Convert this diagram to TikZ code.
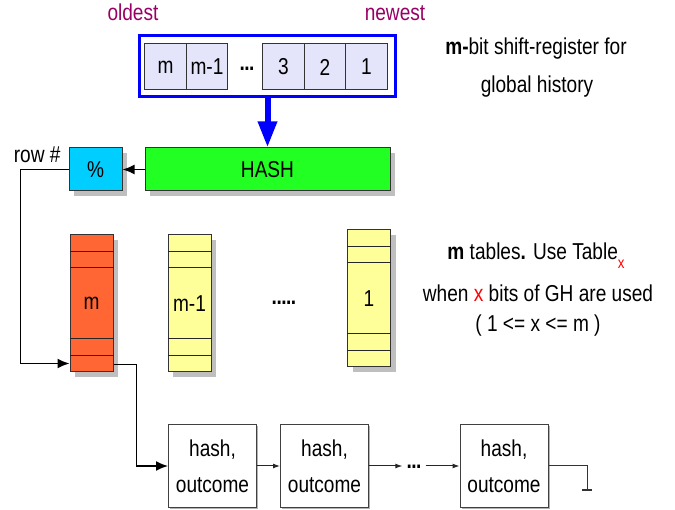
\documentclass[tikz,border=0pt]{standalone}
\usepackage{fontspec}
\setmainfont{Liberation Sans}[FakeStretch=0.83]
\usetikzlibrary{positioning, arrows.meta, shadows, calc}

\definecolor{regcell}{RGB}{228,228,250}
\definecolor{hashgreen}{RGB}{34,255,34}
\definecolor{modcyan}{RGB}{0,206,255}
\definecolor{tblorange}{RGB}{255,102,51}
\definecolor{tblyellow}{RGB}{255,255,153}
\definecolor{agecol}{RGB}{153,0,102}

\newcommand{\tightdots}{\textbf{.\kern-0.5pt.\kern-0.5pt.}}

\begin{document}
\begin{tikzpicture}[
        x=1pt, y=-1pt,
        font=\fontsize{23}{27}\selectfont,
        cell/.style={draw=black!80, line width=1pt, fill=regcell, minimum width=41.5pt, minimum height=46pt, inner sep=0pt, outer sep=0pt},
        shadowed/.style={general shadow={fill=black!25, shadow xshift=5pt, shadow yshift=-5pt}},
        block/.style={draw=black!80, line width=1pt, shadowed, minimum height=43pt, inner sep=0pt},
        tbl/.style={draw=black!80, line width=1pt, shadowed, minimum width=43pt, minimum height=137pt, inner sep=0pt},
        entry/.style={draw=black!75, line width=1pt, fill=white, minimum width=88pt, minimum height=82pt, inner sep=0pt, align=center,
            font=\fontsize{23}{36}\selectfont,
            general shadow={fill=black!30, shadow xshift=1.5pt, shadow yshift=-1.5pt}},
        arrow/.style={-{Latex[length=12pt,width=10pt]}, line width=1.6pt},
        link/.style={-{Latex[length=7pt,width=5pt]}, line width=1pt, black!85},
        note/.style={anchor=base}
    ]
    \useasboundingbox (0,0) rectangle (675,510);

    % global history register
    \node[draw=blue, line width=3pt, minimum width=256pt, minimum height=61pt] (reg) at (267.5,66) {};
    \node[cell] (cm) at (165.5,67) {m};
    \node[cell, right=0pt of cm] (cm1) {m-1};
    \node[cell, right=35pt of cm1] (c3) {3};
    \node[cell, right=0pt of c3] (c2) {2};
    \node[cell, right=0pt of c2] (c1) {1};
    \node (rdots) at (247,69) {\tightdots};
    \node[note, text=agecol] (oldest) at (133,21) {oldest};
    \node[note, text=agecol] (newest) at (395,21) {newest};

    \node[note] (regtxt1) at (536,55) {\textbf{m-}bit shift-register for};
    \node[note] (regtxt2) at (537,93) {global history};

    % hash and modulo
    \node[block, fill=hashgreen, minimum width=245pt] (hash) at (267.5,169.5) {HASH};
    \node[block, fill=modcyan, minimum width=53pt] (mod) at (95.5,169.5) {\%};
    \node[anchor=base east] (rowlbl) at (64,163) {row \#};

    \draw[line width=6pt, blue, -{Triangle[width=18pt,length=26pt]}] (reg.south) -- (hash.north);
    \draw[arrow] (hash) -- (mod);

    % tables
    \node[tbl, fill=tblorange] (tm) at (91.5,303.5) {m};
    \node[tbl, fill=tblyellow] (tm1) at (189.5,303.5) {m-1};
    \node[tbl, fill=tblyellow] (t1) at (369,298.5) {1};
    \foreach \t in {tm, tm1, t1}
        \foreach \d in {17,33,104,121}
            \draw[black!85, line width=1pt] ($(\t.north west)+(0,\d)$) -- ($(\t.north east)+(0,\d)$);
    \node (tdots) at (284,303) {\textbf{.\kern-0.5pt.\kern-0.5pt.\kern-0.5pt.\kern-0.5pt.}};

    \node[note] (tbltxt1) at (536,260) {\textbf{m} tables\textbf{.} Use Table\raisebox{-9pt}{\fontsize{16}{16}\selectfont\color{red}x}};
    \node[note] (tbltxt2) at (538,302) {when {\color{red}x} bits of GH are used};
    \node[note] (tbltxt3) at (538,332) {( 1 <= x <= m )};

    \draw[arrow] (mod.west) -- ++(-48,0) |- ($(tm.south west)+(0,-9)$);

    % chained entries
    \node[entry] (h1) at (212.5,466) {hash,\\outcome};
    \node[entry, right=23pt of h1] (h2) {hash,\\outcome};
    \node[inner sep=4pt] (hdots) at (414,467) {\tightdots};
    \node[entry] (h3) at (504,466) {hash,\\outcome};

    \draw[arrow] ($(tm.south east)+(0,-8)$) -- ++(23,0) |- (h1.west);
    \draw[link] (h1) -- (h2);
    \draw[link] (h2) -- (h2 -| hdots.west);
    \draw[link] (h3 -| hdots.east) -- (h3);

    \coordinate (gnd) at (587,490);
    \draw[black!80, line width=1pt] (h3.east) -| (gnd);
    \draw[black!80, line width=1pt] ([xshift=-5pt]gnd) -- ([xshift=5pt]gnd);
\end{tikzpicture}
\end{document}
